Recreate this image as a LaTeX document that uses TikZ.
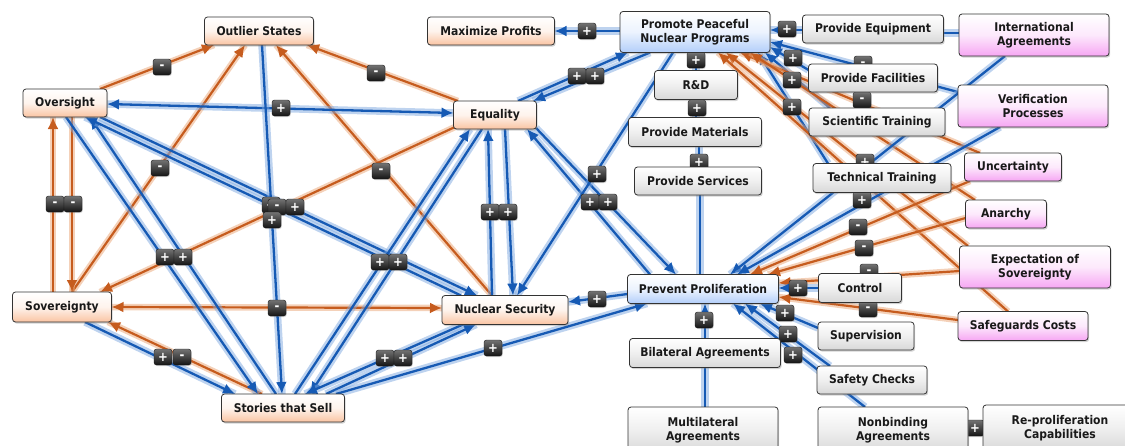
\documentclass[tikz,border=0pt]{standalone}
\usepackage{fontspec}
\setsansfont{DejaVu Sans}[FakeStretch=0.9]
\usetikzlibrary{calc,shadows,arrows.meta}
\pgfdeclarelayer{edges}
\pgfdeclarelayer{badges}
\pgfsetlayers{edges,badges,main}

\definecolor{bcore}{RGB}{22,90,180}
\definecolor{bhalo}{RGB}{125,168,224}
\definecolor{ocore}{RGB}{198,92,30}
\definecolor{ohalo}{RGB}{234,164,116}
\definecolor{peachc}{RGB}{250,196,162}
\definecolor{bluec}{RGB}{178,206,250}
\definecolor{pinkc}{RGB}{246,166,243}
\definecolor{grayc}{RGB}{216,216,216}

\tikzset{
  box/.style={rectangle, rounded corners=3pt, draw=black!80, line width=0.8pt,
    text=black!90, align=center, inner sep=1pt,
    font=\sffamily\bfseries\fontsize{12}{14}\selectfont,
    drop shadow={shadow xshift=1.2pt, shadow yshift=-1.6pt, opacity=0.35}},
  peach/.style={box, top color=white, bottom color=peachc, middle color=white!80!peachc},
  bluebox/.style={box, top color=white, bottom color=bluec, middle color=white!75!bluec},
  pinkbox/.style={box, top color=white, bottom color=pinkc, middle color=white!75!pinkc},
  graybox/.style={box, top color=white, bottom color=grayc, middle color=white!60!grayc},
  pl/.style={draw=bcore, line width=2.3pt,
    preaction={draw=bhalo, line width=7.5pt, opacity=0.5, arrows=-}},
  mn/.style={draw=ocore, line width=2.2pt,
    preaction={draw=ohalo, line width=6.5pt, opacity=0.5, arrows=-}},
  ahead/.style={-{Latex[length=12pt,width=11pt]}},
  aboth/.style={{Latex[length=12pt,width=11pt]}-{Latex[length=12pt,width=11pt]}},
  sg/.style={rectangle, rounded corners=2.5pt, top color=black!55, bottom color=black!92,
    draw=black!90, line width=0.4pt, text=white, minimum width=18pt, minimum height=16pt,
    inner sep=0pt, font=\sffamily\bfseries\fontsize{13}{13}\selectfont,
    drop shadow={shadow xshift=0.8pt, shadow yshift=-1pt, opacity=0.3}}
}

\begin{document}
\begin{tikzpicture}[x=1pt,y=-1pt]
\useasboundingbox (0,0) rectangle (1125,445);

% ---- concept boxes ----
\node[peach, minimum width=109pt, minimum height=28pt] (out) at (259,31) {Outlier States};
\node[peach, minimum width=84pt, minimum height=28pt] (ovs) at (65,103) {Oversight};
\node[peach, minimum width=83pt, minimum height=28pt] (equ) at (495,115) {Equality};
\node[peach, minimum width=99pt, minimum height=30pt] (sov) at (62,307) {Sovereignty};
\node[peach, minimum width=123pt, minimum height=28pt] (sto) at (283,408) {Stories that Sell};
\node[peach, minimum width=126pt, minimum height=29pt] (nuc) at (505,310) {Nuclear Security};
\node[peach, minimum width=127pt, minimum height=28pt] (max) at (491,31) {Maximize Profits};

\node[bluebox, minimum width=150pt, minimum height=41pt] (pro) at (695,32) {Promote Peaceful\\Nuclear Programs};
\node[bluebox, minimum width=151pt, minimum height=29pt] (pre) at (703,289) {Prevent Proliferation};

\node[graybox, minimum width=83pt, minimum height=29pt] (rd) at (696,85) {R\&D};
\node[graybox, minimum width=133pt, minimum height=29pt] (mat) at (695,132) {Provide Materials};
\node[graybox, minimum width=127pt, minimum height=28pt] (ser) at (698,181) {Provide Services};
\node[graybox, minimum width=141pt, minimum height=28pt] (peq) at (873,29) {Provide Equipment};
\node[graybox, minimum width=129pt, minimum height=28pt] (pfa) at (873,78) {Provide Facilities};
\node[graybox, minimum width=136pt, minimum height=28pt] (sci) at (877,122) {Scientific Training};
\node[graybox, minimum width=138pt, minimum height=29pt] (tec) at (882,178) {Technical Training};
\node[graybox, minimum width=83pt, minimum height=29pt] (con) at (860,288) {Control};
\node[graybox, minimum width=96pt, minimum height=28pt] (sup) at (866,336) {Supervision};
\node[graybox, minimum width=110pt, minimum height=28pt] (saf) at (872,380) {Safety Checks};
\node[graybox, minimum width=151pt, minimum height=29pt] (bil) at (705,353) {Bilateral Agreements};
\node[graybox, minimum width=150pt, minimum height=46pt] (mul) at (703,430) {Multilateral\\Agreements};
\node[graybox, minimum width=150pt, minimum height=46pt] (non) at (893,430) {Nonbinding\\Agreements};
\node[graybox, minimum width=154pt, minimum height=46pt] (rep) at (1060,428) {Re-proliferation\\Capabilities};

\node[pinkbox, minimum width=150pt, minimum height=42pt] (int) at (1034,35) {International\\Agreements};
\node[pinkbox, minimum width=150pt, minimum height=42pt] (ver) at (1033,106) {Verification\\Processes};
\node[pinkbox, minimum width=97pt, minimum height=28pt] (unc) at (1013,167) {Uncertainty};
\node[pinkbox, minimum width=81pt, minimum height=28pt] (ana) at (1006,214) {Anarchy};
\node[pinkbox, minimum width=151pt, minimum height=42pt] (exp) at (1035,267) {Expectation of\\Sovereignty};
\node[pinkbox, minimum width=130pt, minimum height=29pt] (sgc) at (1023,326) {Safeguards Costs};

% ---- links ----
\begin{pgfonlayer}{edges}
% negative links, left cluster
\draw[mn, ahead] ($(ovs)+(35,-14)$) -- ($(out)+(-45,14)$);
\draw[mn, ahead] ($(sov)+(10,-15)$) -- ($(out)+(-14,14)$);
\draw[mn, ahead] ($(sov)+(-9,-15)$) -- ($(ovs)+(-12,14)$);
\draw[mn, ahead] ($(ovs)+(7,14)$) -- ($(sov)+(10,-15)$);
\draw[mn, ahead] ($(equ)+(-37,-14)$) -- ($(out)+(48,14)$);
\draw[mn, ahead] ($(nuc)+(-13,-14.5)$) -- ($(out)+(17,14)$);
\draw[mn, ahead] ($(equ)+(-40,12)$) -- ($(sov)+(38,-15)$);
\draw[mn, aboth] ($(sov)+(49.5,0)$) -- ($(nuc)+(-63,-2)$);
\draw[mn, ahead] ($(sto)+(-21,-14)$) -- ($(sov)+(46,15)$);

% positive links, left cluster
\draw[pl, aboth] ($(ovs)+(42,1)$) -- ($(equ)+(-41.5,-2)$);
\draw[pl, ahead] ($(ovs)+(1,14)$) -- ($(sto)+(-25,-14)$);
\draw[pl, ahead] ($(sto)+(-7,-14)$) -- ($(ovs)+(25,14)$);
\draw[pl, ahead] ($(ovs)+(35,14)$) -- ($(nuc)+(-28,-14.5)$);
\draw[pl, ahead] ($(nuc)+(-44,-14.5)$) -- ($(ovs)+(20,14)$);
\draw[pl, ahead] ($(out)+(3,14)$) -- ($(sto)+(-1,-14)$);
\draw[pl, ahead] ($(sov)+(23,15)$) -- ($(sto)+(-48,-14)$);
\draw[pl, ahead] ($(sto)+(12,-14)$) -- ($(equ)+(-25,14)$);
\draw[pl, ahead] ($(equ)+(-13,14)$) -- ($(sto)+(27,-14)$);
\draw[pl, ahead] ($(nuc)+(-13,-14.5)$) -- ($(equ)+(-7,14)$);
\draw[pl, ahead] ($(equ)+(10,14)$) -- ($(nuc)+(8,-14.5)$);
\draw[pl, ahead] ($(sto)+(43,-14)$) -- ($(nuc)+(-29,14.5)$);
\draw[pl, ahead] ($(nuc)+(-42,14.5)$) -- ($(sto)+(22,-14)$);
\draw[pl, ahead] ($(sto)+(53,-14)$) -- ($(pre)+(-56,14.5)$);

% links around the two central goals
\draw[pl, ahead] ($(pre)+(-53,-14.5)$) -- ($(equ)+(32,14)$);
\draw[pl, ahead] ($(equ)+(41,13)$) -- ($(pre)+(-27,-14.5)$);
\draw[pl, ahead] ($(equ)+(23,-14)$) -- ($(pro)+(-67,20.5)$);
\draw[pl, ahead] ($(pro)+(-45,20.5)$) -- ($(equ)+(38,-14)$);
\draw[pl, ahead] ($(pro)+(-22,20.5)$) -- ($(nuc)+(12,-14.5)$);
\draw[pl, ahead] ($(pro)+(-75,-1)$) -- ($(max)+(63.5,0)$);
\draw[pl, ahead] ($(pre)+(-75.5,5)$) -- ($(nuc)+(63,-8)$);
\draw[pl, ahead] ($(rd)+(0,-14.5)$) -- ($(pro)+(1,20.5)$);
\draw[pl] ($(mat)+(1,-14.5)$) -- ($(rd)+(0,14.5)$);
\draw[pl] ($(ser)+(1,-14)$) -- ($(mat)+(4,14.5)$);
\draw[pl] ($(ser)+(2,14)$) -- ($(pre)+(-3,-14.5)$);
\draw[pl, ahead] ($(bil)+(0,-14.5)$) -- ($(pre)+(2,14.5)$);
\draw[pl] ($(mul)+(2,-23)$) -- ($(bil)+(0,14.5)$);

% right-hand inputs
\draw[pl] ($(int)+(-75,-2)$) -- ($(peq)+(70.5,4)$);
\draw[pl, ahead] ($(peq)+(-70.5,1)$) -- ($(pro)+(75,-2)$);
\draw[pl, ahead] ($(ver)+(-75,-14)$) -- ($(pro)+(75,10)$);
\draw[pl, ahead] ($(pfa)+(-64.5,-8)$) -- ($(pro)+(75,15)$);
\draw[pl, ahead] ($(sci)+(-47,-14)$) -- ($(pro)+(70,20.5)$);
\draw[pl, ahead] ($(tec)+(-54,-14.5)$) -- ($(pro)+(63,20.5)$);
\draw[mn, ahead] ($(unc)+(-33,-14)$) -- ($(pro)+(45,20.5)$);
\draw[mn, ahead] ($(ana)+(-31,-14)$) -- ($(pro)+(55,20.5)$);
\draw[mn, ahead] ($(exp)+(-67,-21)$) -- ($(pro)+(31,20.5)$);
\draw[mn, ahead] ($(sgc)+(-15,-14.5)$) -- ($(pro)+(23,20.5)$);

\draw[pl, ahead] ($(int)+(-29,21)$) -- ($(pre)+(27,-14.5)$);
\draw[pl, ahead] ($(ver)+(-33,21)$) -- ($(pre)+(34,-14.5)$);
\draw[mn, ahead] ($(unc)+(-43,14)$) -- ($(pre)+(47,-14.5)$);
\draw[mn, ahead] ($(ana)+(-40.5,4)$) -- ($(pre)+(65,-14.5)$);
\draw[mn, ahead] ($(exp)+(-75.5,4)$) -- ($(pre)+(75.5,-6)$);
\draw[mn, ahead] ($(sgc)+(-65,-6)$) -- ($(pre)+(75.5,8)$);
\draw[pl, ahead] ($(con)+(-41.5,0)$) -- ($(pre)+(75.5,-1)$);
\draw[pl, ahead] ($(sup)+(-48,-8)$) -- ($(pre)+(57,14.5)$);
\draw[pl, ahead] ($(saf)+(-42,-14)$) -- ($(pre)+(42,14.5)$);
\draw[pl, ahead] ($(non)+(-28,-23)$) -- ($(pre)+(30,14.5)$);
\draw[pl] ($(rep)+(-77,0)$) -- ($(non)+(75,0)$);
\end{pgfonlayer}

% ---- polarity badges ----
\begin{pgfonlayer}{badges}
\foreach \bx/\by/\bs [count=\i] in {
  162/67/-, 160/168/-, 55/204/-, 73/204/-, 376/73/-, 381/171/-,
  271/205/+, 277/207/-, 295/207/+, 272/220/+, 277/308/-, 182/357/-,
  281/108/+, 165/257/+, 183/257/+, 380/262/+, 398/262/+,
  490/212/+, 508/212/+, 385/358/+, 403/358/+, 493/348/+, 163/357/+,
  597/299/+, 577/76/+, 595/76/+, 590/202/+, 608/202/+, 597/174/+,
  587/31/+, 696/60/+, 697/108/+, 699/162/+, 704/320/+,
  787/29/+, 793/58/+, 792/80/+, 792/107/+, 865/162/+, 862/200/+,
  863/64/-, 862/100/-, 858/227/-, 864/248/-, 869/272/-, 868/309/-,
  798/288/+, 785/313/+, 788/334/+, 793/355/+, 975/428/+}
  \node[sg] (bd\i) at (\bx,\by) {\bs};
\end{pgfonlayer}
\end{tikzpicture}
\end{document}
